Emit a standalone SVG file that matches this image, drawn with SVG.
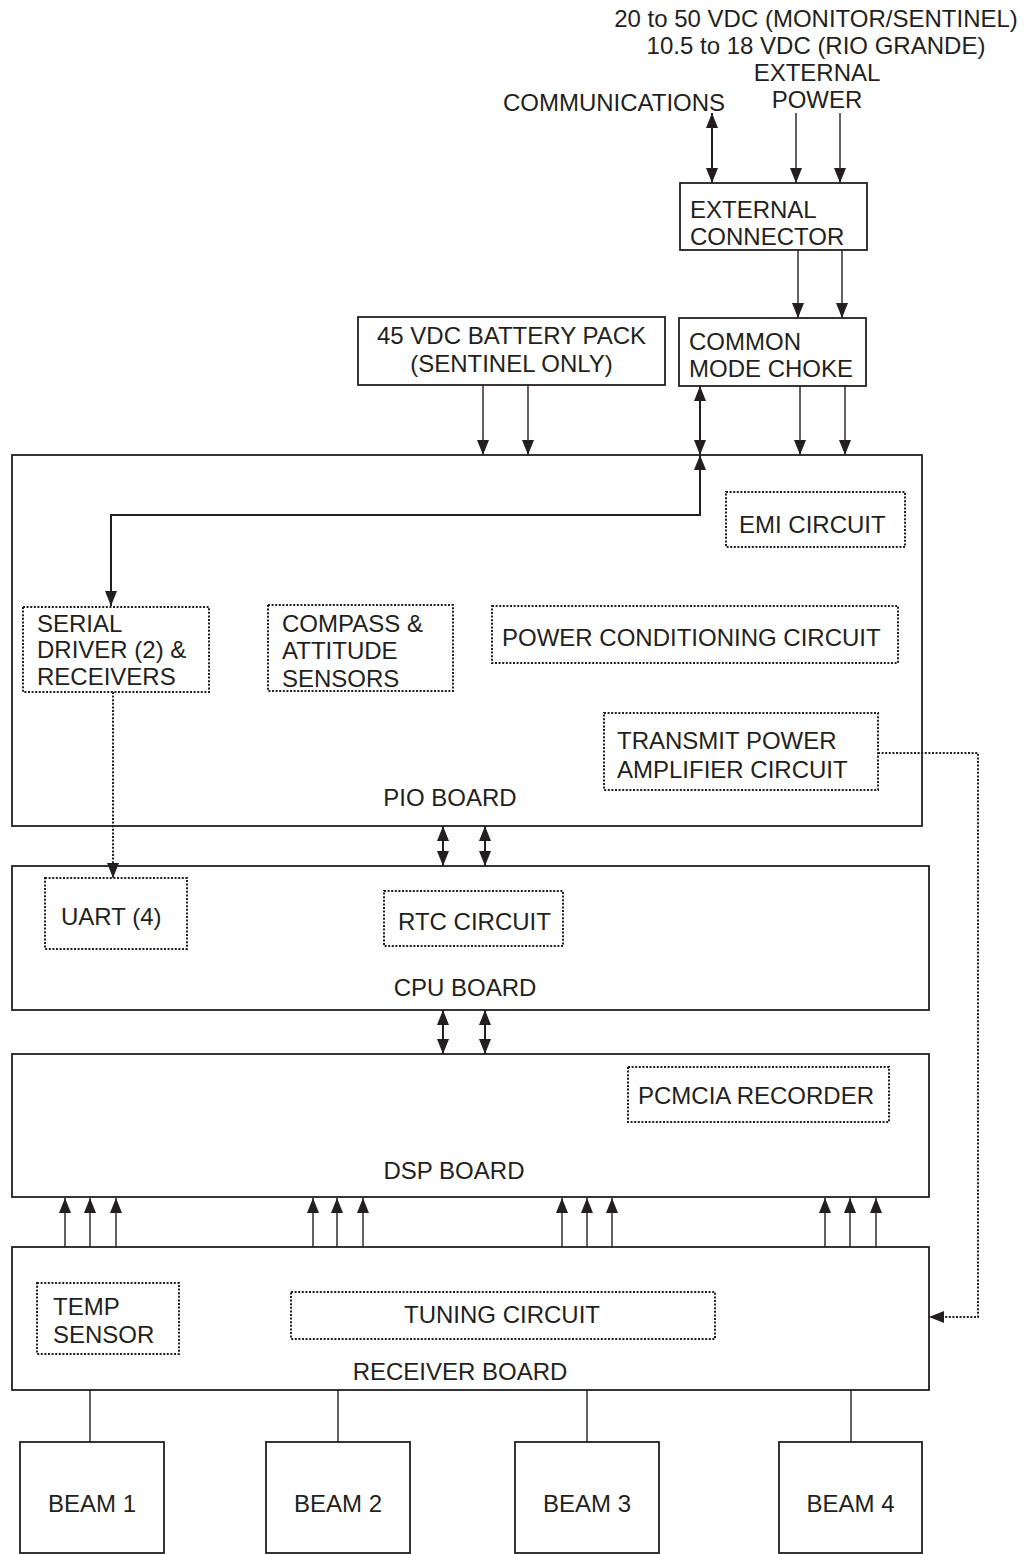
<svg xmlns="http://www.w3.org/2000/svg" width="1031" height="1554" viewBox="0 0 1031 1554">
<style>
text{font-family:"Liberation Sans",Arial,sans-serif;font-size:24px;fill:#231f20}
.c{text-anchor:middle}
.box{fill:#fff;stroke:#231f20;stroke-width:1.8}
.dot{fill:none;stroke:#231f20;stroke-width:2;stroke-dasharray:2 1.6}
.ln{fill:none;stroke:#231f20;stroke-width:1.4}
.th{fill:none;stroke:#231f20;stroke-width:2}
</style>
<defs>
<marker id="ah" markerUnits="userSpaceOnUse" markerWidth="15" markerHeight="14" viewBox="0 0 15 12" refX="15" refY="6" orient="auto-start-reverse"><path d="M0,0 L15,6 L0,12 z" fill="#231f20"/></marker>
</defs>
<g id="labels-top">
<text class="c" x="816" y="27">20 to 50 VDC (MONITOR/SENTINEL)</text>
<text class="c" x="816" y="54">10.5 to 18 VDC (RIO GRANDE)</text>
<text class="c" x="817" y="81">EXTERNAL</text>
<text class="c" x="817" y="108">POWER</text>
<text class="c" x="614" y="111">COMMUNICATIONS</text>
</g>
<g id="pio-board">
<rect class="box" x="12" y="455" width="910" height="371"/>
<text class="c" x="450" y="806">PIO BOARD</text>
</g>
<g id="cpu-board">
<rect class="box" x="12" y="866" width="917" height="144"/>
<text class="c" x="465" y="996">CPU BOARD</text>
</g>
<g id="dsp-board">
<rect class="box" x="12" y="1054" width="917" height="143"/>
<text class="c" x="454" y="1179">DSP BOARD</text>
</g>
<g id="receiver-board">
<rect class="box" x="12" y="1247" width="917" height="143"/>
<text class="c" x="460" y="1380">RECEIVER BOARD</text>
</g>
<g id="external-connector">
<rect class="box" x="680" y="183" width="187" height="67"/>
<text x="690" y="218">EXTERNAL</text>
<text x="690" y="245">CONNECTOR</text>
</g>
<g id="common-mode-choke">
<rect class="box" x="679" y="318" width="187" height="68"/>
<text x="689" y="350">COMMON</text>
<text x="689" y="377">MODE CHOKE</text>
</g>
<g id="battery-pack">
<rect class="box" x="358" y="317" width="307" height="68"/>
<text class="c" x="511.5" y="344">45 VDC BATTERY PACK</text>
<text class="c" x="511.5" y="372">(SENTINEL ONLY)</text>
</g>
<g id="emi-circuit">
<rect class="dot" x="726" y="492" width="179" height="55"/>
<text x="739" y="533">EMI CIRCUIT</text>
</g>
<g id="serial-driver">
<rect class="dot" x="23" y="607" width="186" height="85"/>
<text x="37" y="632">SERIAL</text>
<text x="37" y="658">DRIVER (2) &amp;</text>
<text x="37" y="685">RECEIVERS</text>
</g>
<g id="compass">
<rect class="dot" x="268" y="605" width="185" height="86"/>
<text x="282" y="632">COMPASS &amp;</text>
<text x="282" y="659">ATTITUDE</text>
<text x="282" y="687">SENSORS</text>
</g>
<g id="power-conditioning">
<rect class="dot" x="492" y="606" width="406" height="57"/>
<text x="502" y="646">POWER CONDITIONING CIRCUIT</text>
</g>
<g id="transmit-amp">
<rect class="dot" x="604" y="713" width="274" height="77"/>
<text x="617" y="749">TRANSMIT POWER</text>
<text x="617" y="778">AMPLIFIER CIRCUIT</text>
</g>
<g id="uart">
<rect class="dot" x="45" y="878" width="142" height="71"/>
<text x="61" y="925">UART (4)</text>
</g>
<g id="rtc">
<rect class="dot" x="384" y="891" width="179" height="55"/>
<text x="398" y="930">RTC CIRCUIT</text>
</g>
<g id="pcmcia">
<rect class="dot" x="628" y="1067" width="261" height="55"/>
<text x="638" y="1104">PCMCIA RECORDER</text>
</g>
<g id="temp-sensor">
<rect class="dot" x="37" y="1283" width="142" height="71"/>
<text x="53" y="1315">TEMP</text>
<text x="53" y="1343">SENSOR</text>
</g>
<g id="tuning">
<rect class="dot" x="291" y="1292" width="424" height="47"/>
<text class="c" x="502" y="1323">TUNING CIRCUIT</text>
</g>
<g id="beam1"><rect class="box" x="20" y="1442" width="144" height="111"/><text class="c" x="92" y="1512">BEAM 1</text></g>
<g id="beam2"><rect class="box" x="266" y="1442" width="144" height="111"/><text class="c" x="338" y="1512">BEAM 2</text></g>
<g id="beam3"><rect class="box" x="515" y="1442" width="144" height="111"/><text class="c" x="587" y="1512">BEAM 3</text></g>
<g id="beam4"><rect class="box" x="779" y="1442" width="143" height="111"/><text class="c" x="850.5" y="1512">BEAM 4</text></g>
<g id="connectors">
<line class="th" x1="712" y1="113" x2="712" y2="183" marker-start="url(#ah)" marker-end="url(#ah)"/>
<line class="ln" x1="796" y1="113" x2="796" y2="183" marker-end="url(#ah)"/>
<line class="ln" x1="840" y1="113" x2="840" y2="183" marker-end="url(#ah)"/>
<line class="ln" x1="798" y1="250" x2="798" y2="318" marker-end="url(#ah)"/>
<line class="ln" x1="842" y1="250" x2="842" y2="318" marker-end="url(#ah)"/>
<line class="ln" x1="800" y1="386" x2="800" y2="455" marker-end="url(#ah)"/>
<line class="ln" x1="845" y1="386" x2="845" y2="455" marker-end="url(#ah)"/>
<line class="ln" x1="483" y1="385" x2="483" y2="455" marker-end="url(#ah)"/>
<line class="ln" x1="528" y1="385" x2="528" y2="455" marker-end="url(#ah)"/>
<line class="th" x1="700" y1="386" x2="700" y2="455" marker-start="url(#ah)" marker-end="url(#ah)"/>
<path class="th" d="M700,455 V515 H111 V606" marker-start="url(#ah)" marker-end="url(#ah)"/>
<path class="dot" d="M113,692 V878" marker-end="url(#ah)"/>
<path class="dot" d="M878,753 H978 V1317 H929" marker-end="url(#ah)"/>
<line class="th" x1="443" y1="826" x2="443" y2="866" marker-start="url(#ah)" marker-end="url(#ah)"/>
<line class="th" x1="485" y1="826" x2="485" y2="866" marker-start="url(#ah)" marker-end="url(#ah)"/>
<line class="th" x1="443" y1="1010" x2="443" y2="1054" marker-start="url(#ah)" marker-end="url(#ah)"/>
<line class="th" x1="485" y1="1010" x2="485" y2="1054" marker-start="url(#ah)" marker-end="url(#ah)"/>
<line class="ln" x1="65" y1="1247" x2="65" y2="1198" marker-end="url(#ah)"/>
<line class="ln" x1="90" y1="1247" x2="90" y2="1198" marker-end="url(#ah)"/>
<line class="ln" x1="116" y1="1247" x2="116" y2="1198" marker-end="url(#ah)"/>
<line class="ln" x1="313" y1="1247" x2="313" y2="1198" marker-end="url(#ah)"/>
<line class="ln" x1="337" y1="1247" x2="337" y2="1198" marker-end="url(#ah)"/>
<line class="ln" x1="363" y1="1247" x2="363" y2="1198" marker-end="url(#ah)"/>
<line class="ln" x1="562" y1="1247" x2="562" y2="1198" marker-end="url(#ah)"/>
<line class="ln" x1="587" y1="1247" x2="587" y2="1198" marker-end="url(#ah)"/>
<line class="ln" x1="612" y1="1247" x2="612" y2="1198" marker-end="url(#ah)"/>
<line class="ln" x1="825" y1="1247" x2="825" y2="1198" marker-end="url(#ah)"/>
<line class="ln" x1="850" y1="1247" x2="850" y2="1198" marker-end="url(#ah)"/>
<line class="ln" x1="876" y1="1247" x2="876" y2="1198" marker-end="url(#ah)"/>
<line class="ln" x1="90" y1="1390" x2="90" y2="1442"/>
<line class="ln" x1="338" y1="1390" x2="338" y2="1442"/>
<line class="ln" x1="587" y1="1390" x2="587" y2="1442"/>
<line class="ln" x1="851" y1="1390" x2="851" y2="1442"/>
</g>
</svg>
